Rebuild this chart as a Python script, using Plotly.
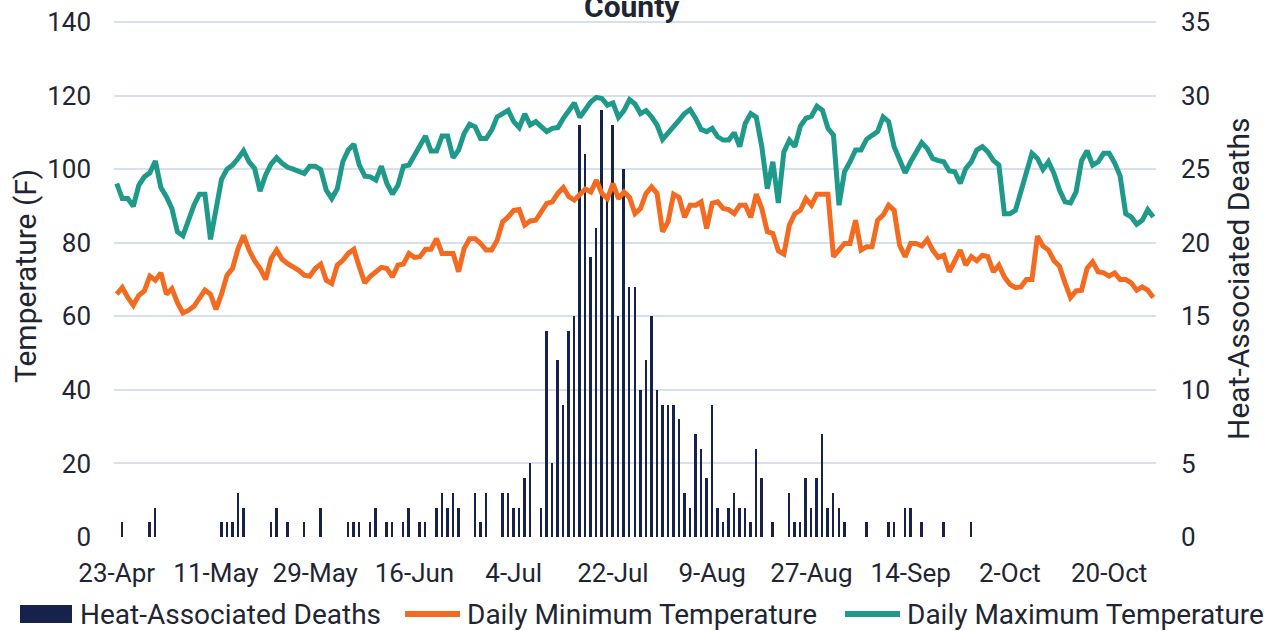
import datetime as dt
import plotly.graph_objects as go

start = dt.date(2023, 4, 23)

max_temp = [96.1, 92.0, 92.0, 89.9, 95.6, 97.9, 99.0, 102.2, 95.0, 92.5,
            89.3, 83.0, 81.9, 86.6, 90.2, 93.2, 93.2, 80.9, 89.8, 97.2,
            100.0, 101.1, 102.9, 105.0, 102.0, 100.2, 94.0, 98.4, 101.4, 103.1,
            101.6, 100.5, 100.0, 99.3, 98.8, 100.8, 100.8, 99.9, 94.3, 92.0,
            94.7, 102.0, 105.2, 106.8, 101.1, 98.1, 97.9, 97.0, 100.8, 96.1,
            93.2, 95.6, 100.8, 101.1, 103.8, 106.1, 109.0, 104.9, 104.9, 109.0,
            109.0, 103.1, 105.2, 109.7, 112.2, 111.5, 108.3, 108.3, 110.6, 114.2,
            115.1, 116.0, 112.9, 111.3, 115.0, 112.0, 112.9, 111.5, 110.2, 111.1,
            111.3, 113.8, 116.0, 118.0, 114.1, 116.2, 118.3, 119.5, 119.2, 117.4,
            118.0, 114.1, 115.9, 118.9, 117.7, 115.1, 115.9, 114.2, 112.0, 108.1,
            109.7, 111.5, 113.3, 115.1, 116.2, 113.8, 110.8, 110.2, 111.1, 108.8,
            107.9, 107.9, 109.9, 106.1, 112.4, 115.1, 114.1, 106.1, 94.7, 102.0,
            90.8, 104.7, 107.9, 106.1, 111.7, 113.8, 114.4, 117.1, 116.0, 111.1,
            109.2, 90.2, 99.3, 102.0, 105.2, 105.2, 108.1, 109.2, 110.2, 114.2,
            112.9, 106.1, 102.4, 99.0, 102.0, 104.3, 107.2, 105.6, 102.9, 102.3,
            102.0, 99.5, 99.3, 96.1, 100.2, 102.0, 105.2, 106.1, 104.7, 102.4,
            101.1, 87.9, 87.9, 88.8, 94.3, 99.3, 104.3, 102.9, 99.9, 102.0,
            98.8, 94.3, 91.1, 90.8, 93.8, 102.3, 105.0, 101.1, 102.0, 104.3,
            104.3, 101.7, 98.1, 87.9, 87.0, 85.0, 86.1, 89.0, 87.0]

min_temp = [66.0, 67.8, 65.1, 63.0, 65.7, 66.9, 70.9, 69.8, 71.8, 66.0,
            67.5, 63.7, 60.9, 61.6, 62.7, 64.8, 67.1, 66.0, 61.9, 66.0,
            71.2, 73.0, 78.4, 82.0, 78.0, 75.1, 73.0, 70.0, 75.7, 78.0,
            75.5, 74.3, 73.4, 72.5, 71.2, 70.9, 73.0, 74.2, 69.8, 68.9,
            73.9, 75.2, 77.1, 78.2, 73.4, 69.1, 70.9, 72.1, 73.3, 73.0,
            70.7, 73.9, 74.2, 77.1, 76.0, 76.2, 78.2, 78.2, 81.1, 77.1,
            77.1, 77.1, 72.1, 78.4, 81.1, 81.1, 79.8, 78.0, 78.0, 80.7,
            85.7, 87.0, 88.8, 89.0, 84.8, 85.9, 86.1, 88.4, 90.7, 91.1,
            93.4, 95.0, 92.5, 91.6, 93.2, 94.6, 93.8, 97.0, 93.4, 92.0,
            96.1, 92.0, 93.8, 92.3, 87.9, 89.3, 93.4, 95.2, 93.4, 83.0,
            85.7, 93.2, 92.3, 86.9, 90.2, 90.2, 91.1, 83.9, 90.7, 91.1,
            89.3, 89.0, 87.9, 90.2, 90.2, 86.9, 93.2, 89.3, 83.0, 82.5,
            77.8, 76.9, 84.8, 87.9, 88.8, 92.0, 90.2, 93.2, 93.2, 93.2,
            76.2, 78.0, 79.8, 79.8, 86.1, 78.0, 78.9, 78.9, 86.1, 87.5,
            90.2, 88.8, 79.3, 76.2, 79.8, 79.8, 79.1, 80.9, 78.0, 76.0,
            76.6, 72.1, 74.8, 78.0, 73.9, 76.2, 75.1, 76.6, 76.2, 72.1,
            73.9, 70.7, 68.7, 67.8, 68.0, 70.0, 70.0, 81.8, 79.1, 78.0,
            75.1, 73.6, 69.1, 65.1, 66.9, 67.1, 73.0, 74.8, 72.1, 71.8,
            70.9, 71.8, 70.0, 70.0, 69.1, 67.1, 68.0, 67.1, 65.1]

deaths = [0, 1, 0, 0, 0, 0, 1, 2, 0, 0,
          0, 0, 0, 0, 0, 0, 0, 0, 0, 1,
          1, 1, 3, 2, 0, 0, 0, 0, 1, 2,
          0, 1, 0, 0, 1, 0, 0, 2, 0, 0,
          0, 0, 1, 1, 1, 0, 1, 2, 0, 1,
          1, 0, 1, 2, 0, 1, 1, 0, 2, 3,
          2, 3, 2, 0, 0, 3, 1, 3, 0, 0,
          3, 3, 2, 2, 4, 5, 0, 2, 14, 5,
          12, 9, 14, 15, 28, 26, 19, 21, 29, 23,
          28, 15, 25, 17, 17, 10, 12, 15, 10, 9,
          9, 9, 8, 3, 2, 7, 6, 4, 9, 2,
          1, 2, 3, 2, 2, 1, 6, 4, 0, 1,
          0, 0, 3, 1, 1, 4, 2, 4, 7, 2,
          3, 2, 1, 0, 0, 0, 1, 0, 0, 0,
          1, 1, 0, 2, 2, 0, 1, 0, 0, 0,
          1, 0, 0, 0, 0, 1, 0, 0, 0, 0,
          0, 0, 0, 0, 0, 0, 0, 0, 0, 0,
          0, 0, 0, 0, 0, 0, 0, 0, 0, 0,
          0, 0, 0, 0, 0, 0, 0, 0, 0]

tick_labels = ["23-Apr", "11-May", "29-May", "16-Jun", "4-Jul", "22-Jul",
               "9-Aug", "27-Aug", "14-Sep", "2-Oct", "20-Oct"]
tick_step_days = 18
temp_ticks = [0, 20, 40, 60, 80, 100, 120, 140]
death_ticks = [0, 5, 10, 15, 20, 25, 30, 35]

dates = [start + dt.timedelta(days=i) for i in range(len(max_temp))]
tick_dates = [start + dt.timedelta(days=tick_step_days * i) for i in range(len(tick_labels))]

NAVY = "#16224A"
ORANGE = "#F36B21"
TEAL = "#1F9A8A"
TEXT = "#1F2633"
GRID = "#D7E0EC"
FONT = "Roboto"

fig = go.Figure()
fig.add_trace(go.Bar(x=dates, y=deaths, name="Heat-Associated Deaths",
                     marker=dict(color=NAVY, line=dict(width=0)),
                     width=0.36 * 86400000, yaxis="y"))
fig.add_trace(go.Scatter(x=dates, y=min_temp, name="Daily Minimum Temperature",
                         mode="lines", line=dict(color=ORANGE, width=5),
                         yaxis="y2"))
fig.add_trace(go.Scatter(x=dates, y=max_temp, name="Daily Maximum Temperature",
                         mode="lines", line=dict(color=TEAL, width=5),
                         yaxis="y2"))

W, H = 1277, 631
L, R, T, B = 114, 1156, 20, 537   # plot area in pixels (top padded 2px)
TOP_TICK_Y = 22                   # pixel row of the 140 / 35 gridline
pw, ph = R - L, B - T
scale = (B - T) / (B - TOP_TICK_Y)

def px(x):
    return (x - L) / pw

def py(y):
    return (B - y) / ph

x0 = dt.datetime.combine(start, dt.time()) - dt.timedelta(hours=12)
x1 = dt.datetime.combine(dates[-1], dt.time()) + dt.timedelta(hours=12)

fig.update_layout(
    width=W, height=H,
    margin=dict(l=L, r=W - R, t=T, b=H - B, pad=0, autoexpand=False),
    paper_bgcolor="white", plot_bgcolor="white",
    font=dict(family=FONT, size=26, color=TEXT),
    showlegend=False,
    bargap=0,
    xaxis=dict(type="date", range=[x0, x1], tickvals=tick_dates, ticktext=tick_labels,
               showgrid=False, zeroline=False, showline=False, ticks="",
               automargin=False,
               ticklabelstandoff=18, tickfont=dict(size=26, color=TEXT)),
    yaxis=dict(range=[0, death_ticks[-1] * scale], tickmode="array", tickvals=death_ticks,
               side="right", showgrid=True, gridcolor=GRID,
               gridwidth=2, zeroline=False, showline=False, ticks="",
               automargin=False,
               ticklabelstandoff=24, tickfont=dict(size=26, color=TEXT)),
    yaxis2=dict(range=[0, temp_ticks[-1] * scale], tickmode="array", tickvals=temp_ticks,
                side="left", overlaying="y", showgrid=False,
                zeroline=False, showline=False, ticks="",
                automargin=False,
                ticklabelstandoff=22, tickfont=dict(size=26, color=TEXT)),
)

ann = []
ann.append(dict(text="<b>County</b>", x=px(632), y=py(6), xref="paper", yref="paper",
                xanchor="center", yanchor="middle", showarrow=False,
                font=dict(size=30, color=TEXT, family=FONT)))
ann.append(dict(text="Temperature (F)", x=px(25), y=py(276), xref="paper", yref="paper",
                xanchor="center", yanchor="middle", textangle=-90, showarrow=False,
                font=dict(size=30, color=TEXT)))
ann.append(dict(text="Heat-Associated Deaths", x=px(1238), y=py(279), xref="paper",
                yref="paper", xanchor="center", yanchor="middle", textangle=-90,
                showarrow=False, font=dict(size=30, color=TEXT)))

leg_y = 614
legend_items = [("Heat-Associated Deaths", NAVY, "rect", 20, 72, 78),
                ("Daily Minimum Temperature", ORANGE, "line", 405, 460, 465),
                ("Daily Maximum Temperature", TEAL, "line", 845, 900, 905)]
shapes = []
for name, col, kind, a, b, tx in legend_items:
    if kind == "rect":
        shapes.append(dict(type="rect", xref="paper", yref="paper", x0=px(a), x1=px(b),
                           y0=py(leg_y + 9), y1=py(leg_y - 9), fillcolor=col,
                           line=dict(width=0)))
    else:
        shapes.append(dict(type="line", xref="paper", yref="paper", x0=px(a), x1=px(b),
                           y0=py(leg_y), y1=py(leg_y), line=dict(color=col, width=6)))
    ann.append(dict(text=name, x=px(tx), y=py(leg_y), xref="paper", yref="paper",
                    xanchor="left", yanchor="middle", showarrow=False,
                    font=dict(size=28, color=TEXT)))

fig.update_layout(annotations=ann, shapes=shapes)
fig.write_html("out.html", config={"displayModeBar": False},
               post_script="document.body.style.margin='0px';"
                           "document.body.style.overflow='hidden';")
